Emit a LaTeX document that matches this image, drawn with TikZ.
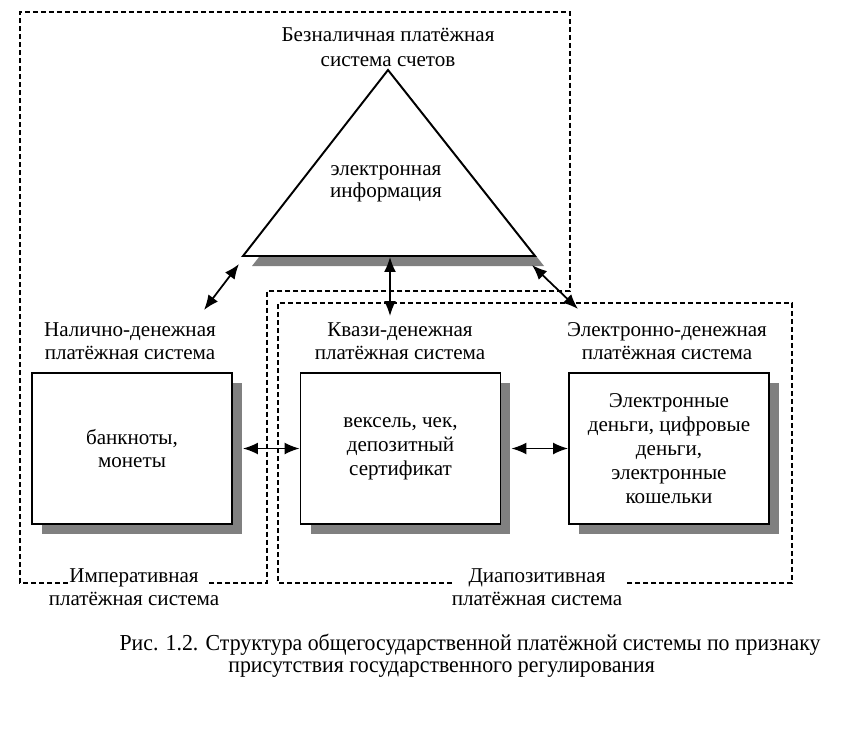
\documentclass[tikz,border=0pt]{standalone}
\usepackage{fontspec}
\setmainfont{Liberation Serif}
\newfontfamily\capfont[FakeStretch=0.955]{Liberation Serif}
\usetikzlibrary{arrows.meta, positioning, shadows, calc}
\tikzset{
  infobox/.style = {draw, line width=1.1pt, fill=white, minimum width=4cm,
    minimum height=3.02cm, align=center, font=\fontsize{12}{13.6}\selectfont,
    drop shadow={shadow xshift=0.2cm, shadow yshift=-0.2cm, fill=black!50, opacity=1}},
  zone/.style = {line width=0.6pt, dash pattern=on 1mm off 0.6mm},
  label/.style = {align=center, font=\fontsize{12}{12.8}\selectfont},
  link/.style = {{Latex[length=3mm,width=2.4mm]}-{Latex[length=3mm,width=2.4mm]}, line width=1pt},
  figcap/.style = {font=\capfont\fontsize{13}{14.2}\selectfont, inner sep=0pt}
}
\begin{document}
\begin{tikzpicture}[x=0.02cm, y=-0.02cm]
\useasboundingbox (0, 0) rectangle (865, 740);

% Zones
\draw [zone] (68, 583) -- (20, 583) -- (20, 12) -- (570, 12) -- (570, 291)
  -- (267, 291) -- (267, 583) -- (207, 583);
\draw [zone] (452, 583) -- (278, 583) -- (278, 303) -- (792, 303) -- (792, 583)
  -- (627, 583);
\node [label] (imper) at (134, 587) {Императивная\\платёжная система};
\node [label] (dispos) at (537, 587) {Диапозитивная\\платёжная система};

% Triangle
\coordinate (apex) at (388, 70);
\coordinate (baseL) at (243, 256);
\coordinate (baseR) at (535, 256);
\fill [black!50] ($(apex)+(9, 10)$) -- ($(baseL)+(9, 10)$) -- ($(baseR)+(9, 10)$) -- cycle;
\draw [line width=1.1pt, fill=white] (apex) -- (baseL) -- (baseR) -- cycle;
\node [label, font=\fontsize{12}{14.2}\selectfont] (nocash) at (388, 47) {Безналичная платёжная\\система счетов};
\node [label] (info) at (386, 184) {электронная\\информация};

% Boxes
\node [infobox] (cash) at (132, 448.5) {банкноты,\\монеты};
\node [infobox] (quasi) at (400.5, 448.5) {вексель, чек,\\депозитный\\сертификат};
\node [infobox] (emoney) at (669, 448.5) {Электронные\\деньги, цифровые\\деньги,\\электронные\\кошельки};
\node [label] (cashlbl) at (130, 341) {Налично-денежная\\платёжная система};
\node [label] (quasilbl) at (400, 341) {Квази-денежная\\платёжная система};
\node [label] (emoneylbl) at (667, 341) {Электронно-денежная\\платёжная система};

% Links
\coordinate (triL) at (239, 264);
\coordinate (triM) at (390, 257);
\coordinate (triR) at (532, 265);
\coordinate (cashtop) at (204, 310);
\coordinate (quasitop) at (390, 316);
\coordinate (emoneytop) at (578, 309);
\draw [link] (triL) -- (cashtop);
\draw [link] (triM) -- (quasitop);
\draw [link] (triR) -- (emoneytop);
\draw [link] ([xshift=0.2cm]cash.east) -- (quasi.west);
\draw [link] ([xshift=0.2cm]quasi.east) -- (emoney.west);

% Caption
\node [figcap] (fig) at (470, 645) {Рис. 1.2. Структура общегосударственной платёжной системы по признаку};
\node [figcap, anchor=west] (fig2) at (228, 670) {присутствия государственного регулирования};

\end{tikzpicture}
\end{document}
